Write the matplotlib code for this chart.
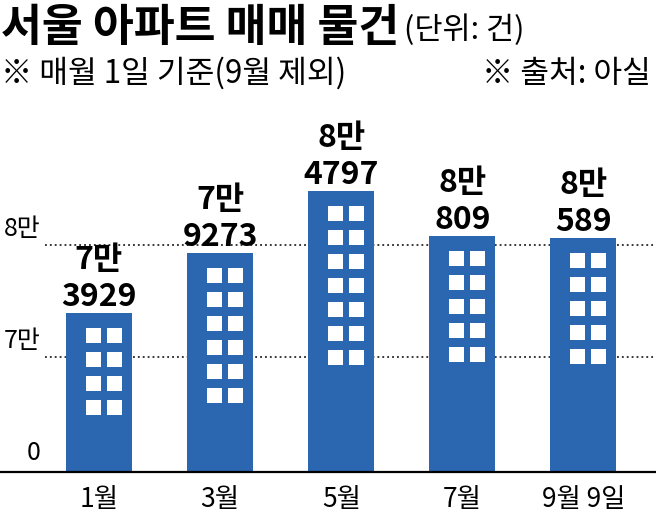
import matplotlib
matplotlib.use('Agg')
import matplotlib.pyplot as plt
from matplotlib.patches import Rectangle

# ---- data ----
categories = ['1월', '3월', '5월', '7월', '9월 9일']
values = [73929, 79273, 84797, 80809, 80589]
ytick_values = [60000, 70000, 80000]
ytick_labels = ['0', '7만', '8만']
grid_values = [70000, 80000]
window_rows = [4, 6, 7, 5, 5]   # decoration only

title = '서울 아파트 매매 물건'
unit = '(단위: 건)'
note_left = '※ 매월 1일 기준(9월 제외)'
note_right = '※ 출처: 아실'

plt.rcParams['font.family'] = ['Noto Sans CJK KR', 'DejaVu Sans']

W, H = 656, 520
fig = plt.figure(figsize=(W / 100, H / 100), dpi=100)
fig.patch.set_facecolor('white')

ax_left, ax_bottom, ax_w, ax_h = 0.0, 1 - 472 / H, 1.0, (472 - 104) / H
ax = fig.add_axes([ax_left, ax_bottom, ax_w, ax_h])

xlim = (-99 / 121.1, (W - 99) / 121.1)
ylim = (59732, 92589)
ax.set_xlim(*xlim)
ax.set_ylim(*ylim)

bar_color = '#2b66b0'
bar_w = 66 / 121.1
xs = list(range(len(values)))
ax.bar(xs, values, width=bar_w, color=bar_color, zorder=2)

# dotted grid lines
for g in grid_values:
    ax.axhline(g, xmin=45 / W, xmax=1, color='black', lw=1.1,
               linestyle=(0, (1.2, 2.0)), zorder=1)

# windows
px_x = (xlim[1] - xlim[0]) / (W * ax_w)
px_y = (ylim[1] - ylim[0]) / (H * ax_h)
for x, v, n in zip(xs, values, window_rows):
    left = x - bar_w / 2
    for r in range(n):
        top = v - (15 + 24 * r) * px_y
        for c_off in (20, 41):
            ax.add_patch(Rectangle((left + c_off * px_x, top - 15 * px_y),
                                   15 * px_x, 15 * px_y, facecolor='white',
                                   edgecolor='none', zorder=3))

# value labels
for x, v in zip(xs, values):
    ax.annotate(str(v % 10000), (x, v), xytext=(0, 7), textcoords='offset pixels',
                ha='center', va='baseline', fontsize=23, fontweight='bold',
                color='black', zorder=4)
    ax.annotate(f'{v // 10000}만', (x, v), xytext=(0, 44), textcoords='offset pixels',
                ha='center', va='baseline', fontsize=23, fontweight='bold',
                color='black', zorder=4)

# y labels
for yv, lab in zip(ytick_values, ytick_labels):
    ax.annotate(lab, (0, yv), xycoords=('axes fraction', 'data'),
                xytext=(41, 9), textcoords='offset pixels',
                ha='right', va='baseline', fontsize=18, color='black')

ax.set_yticks([])
ax.set_xticks(xs)
ax.set_xticklabels(categories, fontsize=19)
ax.tick_params(axis='x', length=0, pad=10)
for s in ['top', 'left', 'right']:
    ax.spines[s].set_visible(False)
ax.spines['bottom'].set_linewidth(1.6)
ax.spines['bottom'].set_color('black')
ax.patch.set_alpha(0)

# titles
t = fig.text(1 / W, 1 - 41 / H, title, fontsize=32, fontweight='bold',
             va='baseline', ha='left')
fig.canvas.draw()
bb = t.get_window_extent(fig.canvas.get_renderer())
fig.text(bb.x1 / W + 5 / W, 1 - 39 / H, unit, fontsize=22, va='baseline', ha='left')
fig.text(1 / W, 1 - 83 / H, note_left, fontsize=22.5, va='baseline', ha='left')
fig.text(651 / W, 1 - 83 / H, note_right, fontsize=22.5, va='baseline', ha='right')

fig.savefig('out.png', dpi=100, facecolor='white')
